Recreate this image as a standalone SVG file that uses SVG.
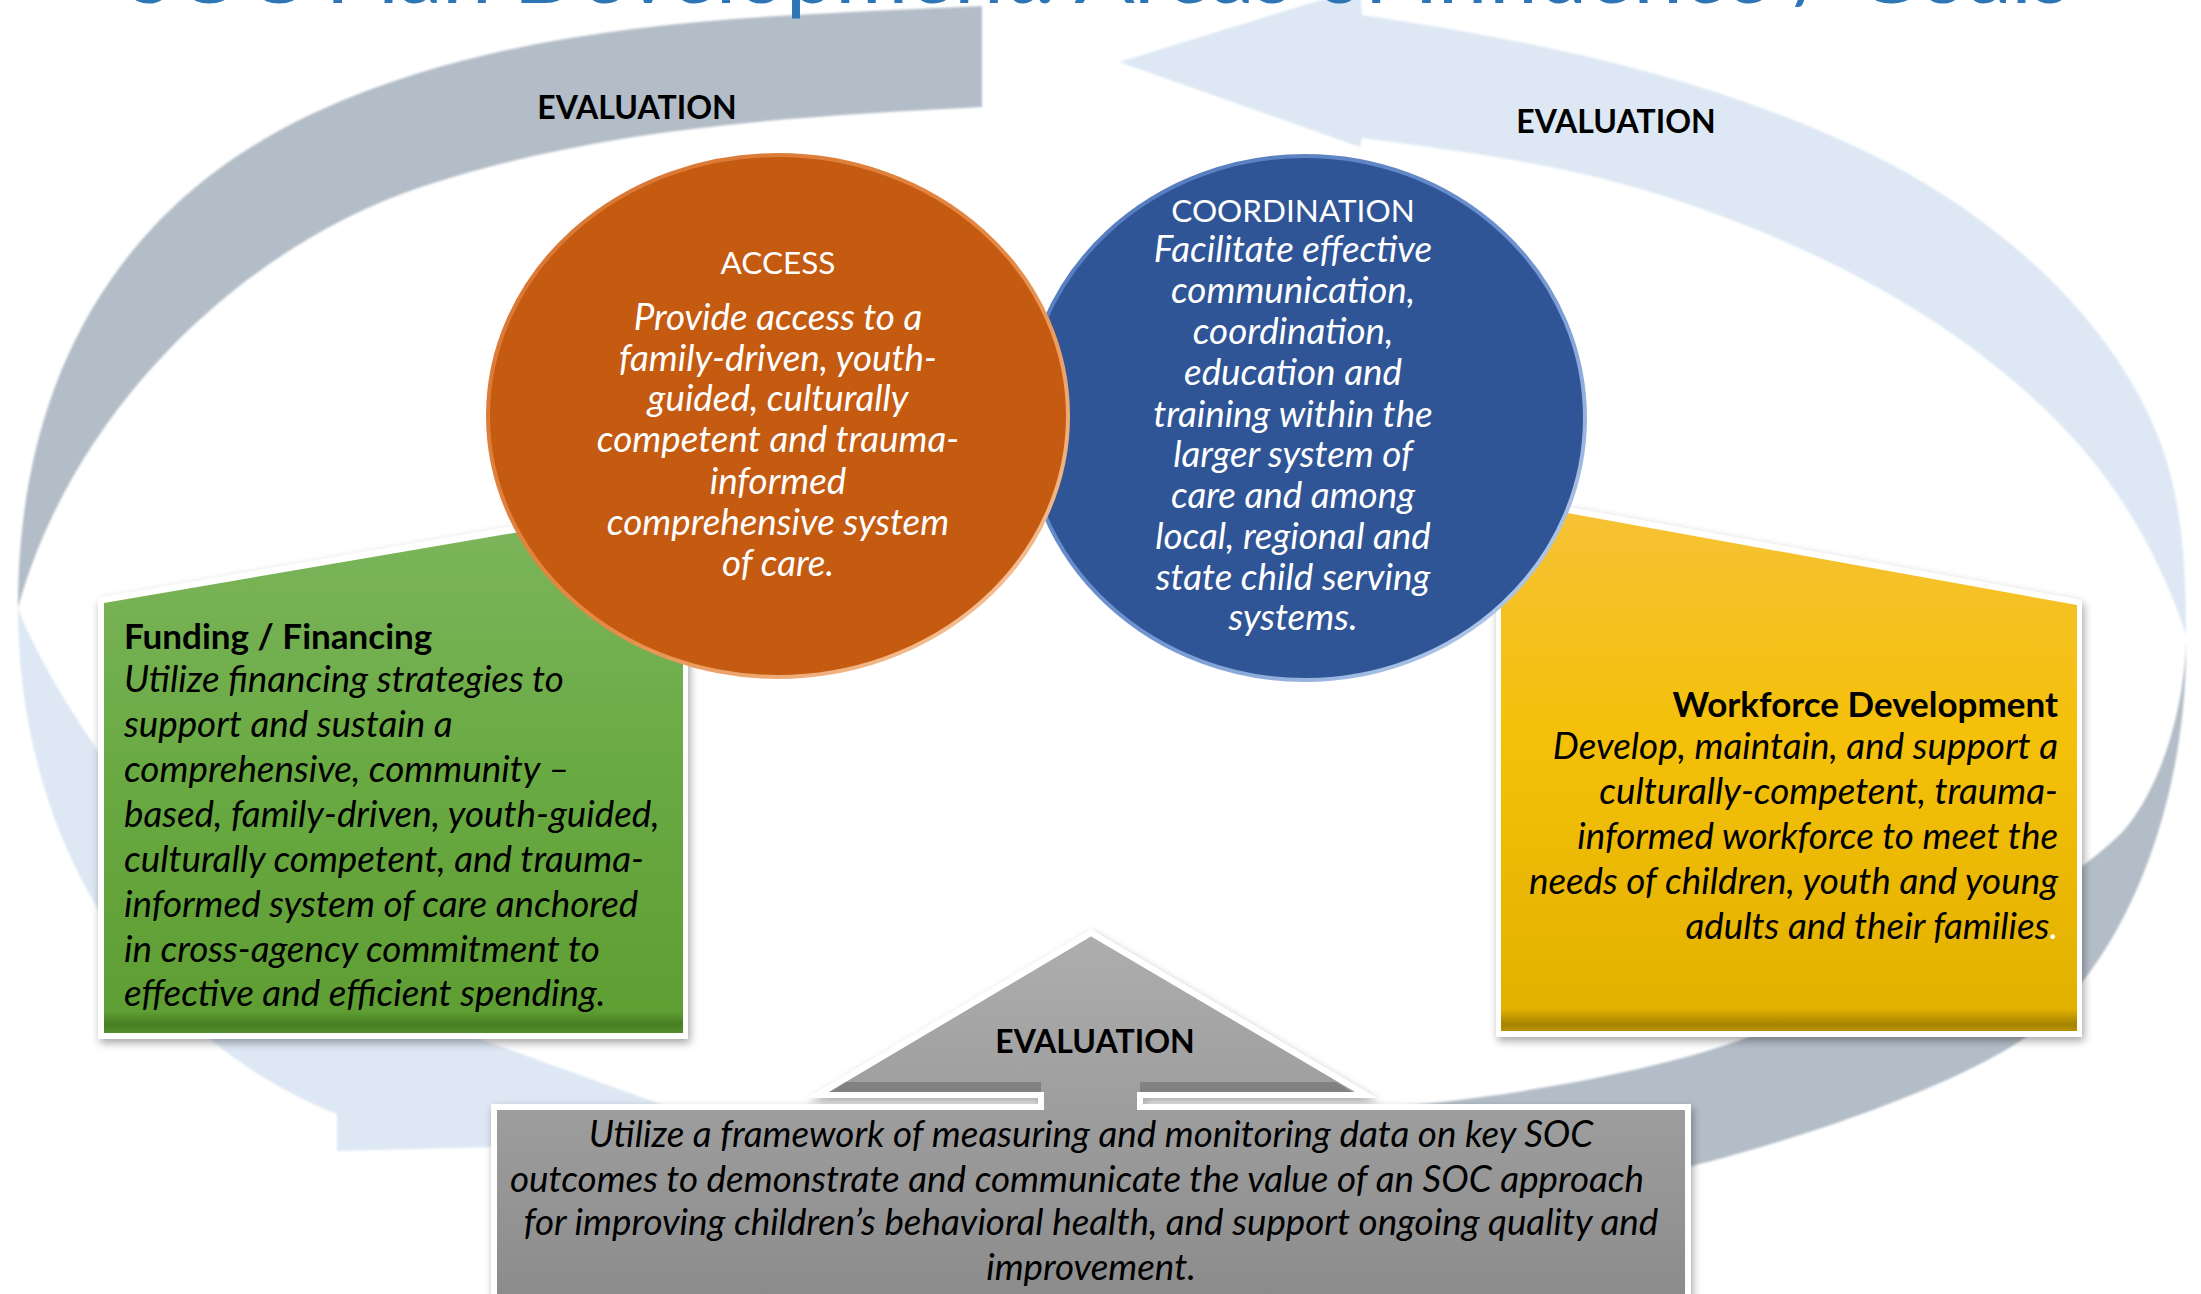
<svg xmlns="http://www.w3.org/2000/svg" width="2201" height="1294" viewBox="0 0 2201 1294">
<defs>
<style>
.t{font-family:Lato,"Open Sans","Liberation Sans",sans-serif;}
.it{font-family:Lato,"Open Sans","Liberation Sans",sans-serif;font-style:italic;font-size:36.8px;}
.hd{font-family:Lato,"Open Sans","Liberation Sans",sans-serif;font-weight:bold;font-size:35px;fill:#000;}
.cap{font-family:Lato,"Open Sans","Liberation Sans",sans-serif;font-size:31.5px;fill:#fff;text-anchor:middle;}
.ev{font-family:Lato,"Open Sans","Liberation Sans",sans-serif;font-weight:bold;font-size:32px;fill:#000;text-anchor:middle;}
.w{fill:#fff;}
.k{fill:#000;}
.mid{text-anchor:middle;}
.end{text-anchor:end;}
.gray{fill:#B3BDC8;}
.lb{fill:#DDE8F4;}
</style>
<linearGradient id="gGreen" x1="0" y1="496" x2="0" y2="1036" gradientUnits="userSpaceOnUse">
<stop offset="0" stop-color="#7EB65E"/>
<stop offset="0.5" stop-color="#6AAA43"/>
<stop offset="0.955" stop-color="#5E9E33"/>
<stop offset="0.978" stop-color="#477D22"/>
<stop offset="1" stop-color="#5A9631"/>
</linearGradient>
<linearGradient id="gYellow" x1="0" y1="496" x2="0" y2="1036" gradientUnits="userSpaceOnUse">
<stop offset="0" stop-color="#F6C237"/>
<stop offset="0.45" stop-color="#F4C009"/>
<stop offset="0.95" stop-color="#E2B100"/>
<stop offset="0.978" stop-color="#A68300"/>
<stop offset="1" stop-color="#C69C00"/>
</linearGradient>
<linearGradient id="gGray" x1="0" y1="933" x2="0" y2="1294" gradientUnits="userSpaceOnUse">
<stop offset="0" stop-color="#AEAEAE"/>
<stop offset="1" stop-color="#8C8C8C"/>
</linearGradient>
<linearGradient id="gOrRim" x1="0" y1="0" x2="1" y2="1">
<stop offset="0" stop-color="#D67230"/>
<stop offset="0.55" stop-color="#E58A45"/>
<stop offset="1" stop-color="#FAD3B0"/>
</linearGradient>
<linearGradient id="gBlRim" x1="0" y1="0" x2="1" y2="1">
<stop offset="0" stop-color="#4E76BA"/>
<stop offset="0.55" stop-color="#6F93CF"/>
<stop offset="1" stop-color="#C9DCF2"/>
</linearGradient>
<filter id="sh" x="-10%" y="-10%" width="125%" height="125%">
<feDropShadow dx="2" dy="4" stdDeviation="4" flood-color="#000" flood-opacity="0.35"/>
</filter>
<filter id="soft" x="-5%" y="-5%" width="110%" height="110%">
<feGaussianBlur stdDeviation="1.2"/>
</filter>
</defs>

<rect width="2201" height="1294" fill="#fff"/>

<g id="connectors" filter="url(#soft)">
<path id="arc-gray-top-left" class="gray" d="M 982 6 C 760 17 521 18 316 112 C 116 204 18 380 18 608 C 72 411 241 247 421 187 C 601 127 792 117 982 107 Z"/>
<path id="arc-blue-top-right" class="lb" d="M 1119 62 L 1360 -12 L 1362 15 C 1531 40 1703 75 1858 148 C 1987 208 2114 314 2162 447 C 2183 506 2186 572 2186 635 C 2164 567 2128 501 2081 447 C 1977 329 1828 251 1679 201 C 1577 166 1469 152 1362 138 L 1360 147 Z"/>
<path id="arc-blue-bottom-left" class="lb" d="M 18 608 C 18 850 150 1040 337 1114 L 337 1151 L 760 1140 L 330 985 L 337 1000 C 220 930 60 720 18 608 Z"/>
<path id="arc-gray-bottom-right" class="gray" d="M 2186 640 C 2188 800 2125 975 2014 1045 C 1934 1095 1778 1145 1688 1167 C 1600 1189 1400 1197 1300 1197 L 1300 1112 C 1420 1110 1600 1085 1720 1047 C 1850 1005 2060 900 2126 828 C 2165 780 2185 700 2186 640 Z"/>
</g>

<text id="title" class="t" x="126" y="3" font-size="89" fill="#2E75B6" textLength="1944">SOC Plan Development: Areas of Influence / Goals</text>

<g id="label-eval-top-left"><text class="ev" x="637" y="119">EVALUATION</text></g>
<g id="label-eval-top-right"><text class="ev" x="1616" y="133">EVALUATION</text></g>

<g id="node-funding">
<polygon points="98,598 688,496 688,1039 98,1039" fill="#fff" filter="url(#sh)"/>
<polygon points="104,603 683,504 683,1033 104,1033" fill="url(#gGreen)"/>
<text class="hd" x="124" y="649">Funding / Financing</text>
<text class="it k" x="124" y="692">Utilize financing strategies to</text>
<text class="it k" x="124" y="737">support and sustain a</text>
<text class="it k" x="124" y="782">comprehensive, community –</text>
<text class="it k" x="124" y="827">based, family-driven, youth-guided,</text>
<text class="it k" x="124" y="872">culturally competent, and trauma-</text>
<text class="it k" x="124" y="917">informed system of care anchored</text>
<text class="it k" x="124" y="962">in cross-agency commitment to</text>
<text class="it k" x="124" y="1006">effective and efficient spending.</text>
</g>

<g id="node-workforce">
<polygon points="1496,494 2082,600 2082,1037 1496,1037" fill="#fff" filter="url(#sh)"/>
<polygon points="1501,501 2077,605 2077,1031 1501,1031" fill="url(#gYellow)"/>
<text class="hd end" x="2058" y="717">Workforce Development</text>
<text class="it k end" x="2058" y="759">Develop, maintain, and support a</text>
<text class="it k end" x="2058" y="804">culturally-competent, trauma-</text>
<text class="it k end" x="2058" y="849">informed workforce to meet the</text>
<text class="it k end" x="2058" y="894">needs of children, youth and young</text>
<text class="it k end" x="2058" y="939">adults and their families<tspan class="w">.</tspan></text>
</g>

<g id="node-coordination">
<ellipse cx="1305" cy="418" rx="280" ry="262" fill="#2F5597" stroke="url(#gBlRim)" stroke-width="4"/>
<text class="cap" x="1293" y="222">COORDINATION</text>
<text class="it w mid" x="1293" y="262">Facilitate effective</text>
<text class="it w mid" x="1293" y="303">communication,</text>
<text class="it w mid" x="1293" y="344">coordination,</text>
<text class="it w mid" x="1293" y="385">education and</text>
<text class="it w mid" x="1293" y="427">training within the</text>
<text class="it w mid" x="1293" y="467">larger system of</text>
<text class="it w mid" x="1293" y="508">care and among</text>
<text class="it w mid" x="1293" y="549">local, regional and</text>
<text class="it w mid" x="1293" y="590">state child serving</text>
<text class="it w mid" x="1293" y="630">systems.</text>
</g>

<g id="node-access">
<ellipse cx="778" cy="416" rx="290" ry="261" fill="#C55A11" stroke="url(#gOrRim)" stroke-width="4"/>
<text class="cap" x="778" y="274">ACCESS</text>
<text class="it w mid" x="778" y="330">Provide access to a</text>
<text class="it w mid" x="778" y="371">family-driven, youth-</text>
<text class="it w mid" x="778" y="411">guided, culturally</text>
<text class="it w mid" x="778" y="452">competent and trauma-</text>
<text class="it w mid" x="778" y="494">informed</text>
<text class="it w mid" x="778" y="535">comprehensive system</text>
<text class="it w mid" x="778" y="576">of care.</text>
</g>

<g id="node-evaluation">
<path d="M 494 1107 L 1041 1107 L 1041 1095 L 818 1095 L 1091 933 L 1366 1095 L 1140 1095 L 1140 1107 L 1688 1107 L 1688 1330 L 494 1330 Z" fill="url(#gGray)" stroke="#fff" stroke-width="6" filter="url(#sh)"/>
<polygon points="846,1082 1041,1082 1041,1092 830,1092" fill="#6E6E6E" opacity="0.6"/>
<polygon points="1140,1082 1336,1082 1352,1092 1140,1092" fill="#6E6E6E" opacity="0.6"/>
<text class="ev" x="1095" y="1053">EVALUATION</text>
<text class="it k mid" x="1091" y="1147">Utilize a framework of measuring and monitoring data on key SOC</text>
<text class="it k mid" x="1077" y="1192">outcomes to demonstrate and communicate the value of an SOC approach</text>
<text class="it k mid" x="1091" y="1235">for improving children’s behavioral health, and support ongoing quality and</text>
<text class="it k mid" x="1091" y="1280">improvement.</text>
</g>
</svg>
